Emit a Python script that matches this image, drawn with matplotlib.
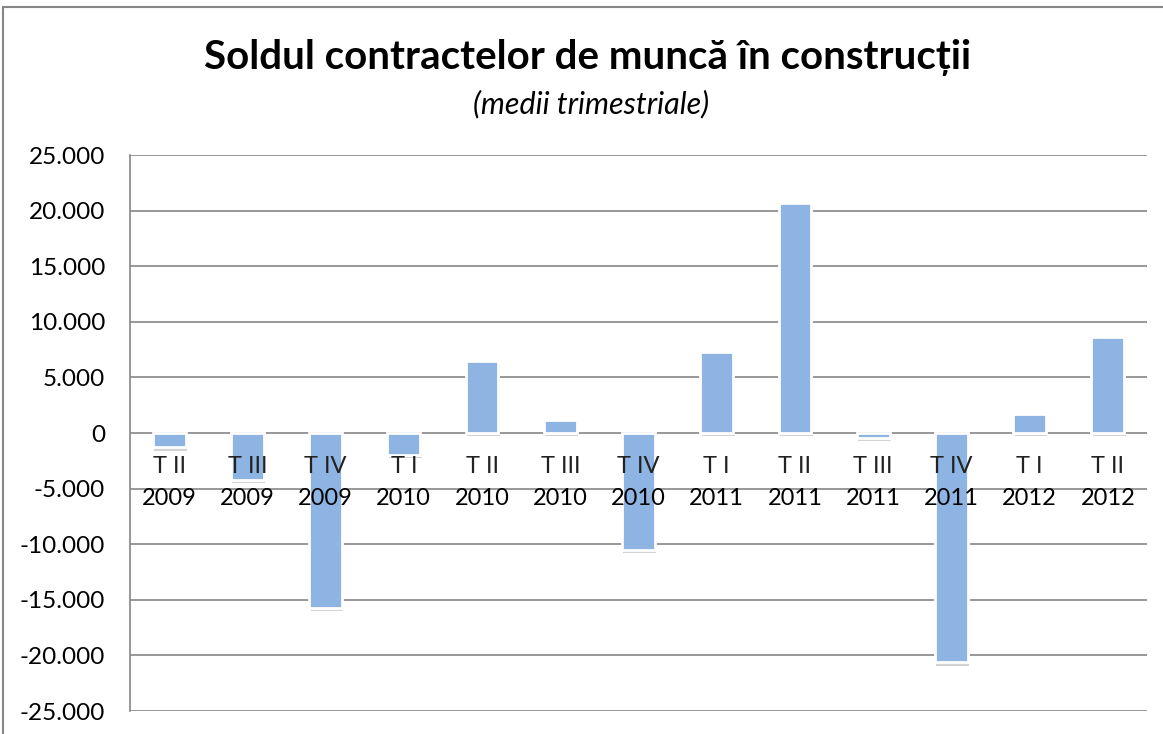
import matplotlib
matplotlib.use("Agg")
import matplotlib.pyplot as plt
import matplotlib.patheffects as pe
from matplotlib.patches import Rectangle
from matplotlib.ticker import FuncFormatter, MultipleLocator

plt.rcParams["font.family"] = ["Lato", "DejaVu Sans"]

quarters = ["T II", "T III", "T IV", "T I", "T II", "T III", "T IV",
            "T I", "T II", "T III", "T IV", "T I", "T II"]
years = ["2009", "2009", "2009", "2010", "2010", "2010", "2010",
         "2011", "2011", "2011", "2011", "2012", "2012"]
balance = [-1300, -4200, -15700, -1950, 6500, 1200, -10500,
           7300, 20700, -450, -20600, 1750, 8650]

title = "Soldul contractelor de muncă în construcții"
subtitle = "(medii trimestriale)"

fig = plt.figure(figsize=(11.63, 7.34), dpi=100)
ax = fig.add_axes([0.1118, 0.0313, 0.8744, 0.7575])

x = range(len(balance))
bars = ax.bar(x, balance, width=0.42, color="#8EB4E3",
              edgecolor="white", linewidth=2.0, zorder=3)
for b in bars:
    b.set_path_effects([pe.SimplePatchShadow(offset=(1, -2.5), alpha=0.25,
                                             shadow_rgbFace="#505050"),
                        pe.Normal()])

ax.set_xlim(-0.5, len(balance) - 0.5)
ax.set_ylim(-25000, 25000)
ax.yaxis.set_major_locator(MultipleLocator(5000))
ax.yaxis.set_major_formatter(
    FuncFormatter(lambda v, _: f"{int(v):,}".replace(",", ".")))
ax.grid(axis="y", color="#868686", linewidth=1.2, zorder=0)
ax.set_axisbelow(True)
ax.tick_params(axis="y", length=0, labelsize=17.5, pad=18)
ax.tick_params(axis="x", length=0, labelbottom=False)
for side in ["top", "right", "bottom"]:
    ax.spines[side].set_visible(False)
ax.spines["left"].set_color("#868686")
ax.spines["left"].set_linewidth(1.2)

# category labels sit just under the zero line, like Excel does
for i, (q, y) in enumerate(zip(quarters, years)):
    ax.annotate(q, (i, 0), xytext=(0, -24), textcoords="offset points",
                ha="center", va="center", fontsize=17, color="#222222",
                zorder=5, annotation_clip=False)
    ax.annotate(y, (i, 0), xytext=(0, -47), textcoords="offset points",
                ha="center", va="center", fontsize=17, color="black",
                zorder=5, annotation_clip=False)

fig.text(0.505, 0.921, title, ha="center", va="center",
         fontsize=29, fontweight="bold")
fig.text(0.508, 0.858, subtitle, ha="center", va="center",
         fontsize=22, style="italic")

# outer chart border
fig.patches.append(Rectangle((0.003, -0.01), 1.2, 1.0, transform=fig.transFigure,
                             fill=False, edgecolor="#868686", linewidth=1.5))

fig.savefig("out.png", dpi=100)
